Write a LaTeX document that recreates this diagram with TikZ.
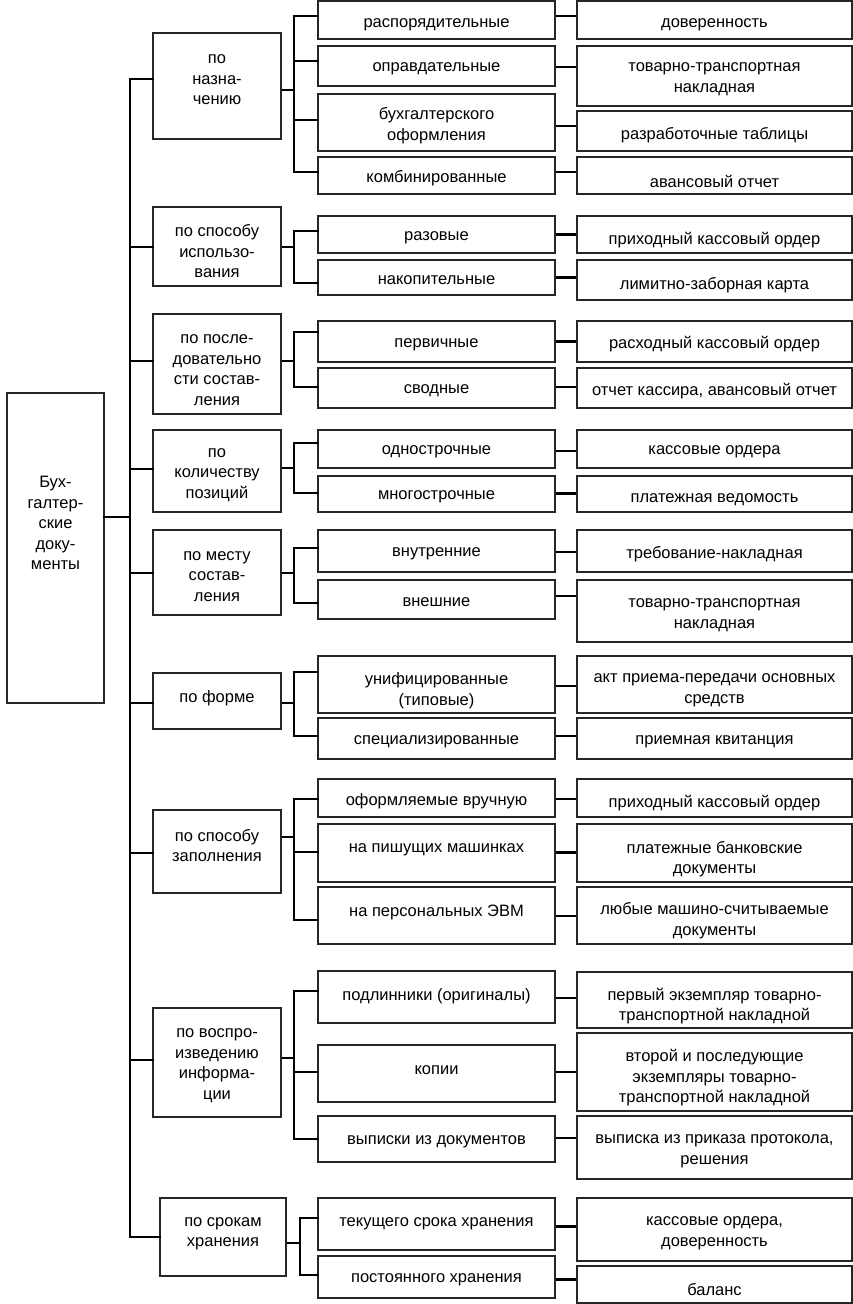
\documentclass[tikz,border=0pt]{standalone}
\usepackage{fontspec}
\setmainfont{Liberation Sans}
\tikzset{
  boxst/.style={draw=black!85, line width=1.4pt, inner sep=0pt, font=\fontsize{16.5}{20.5}\selectfont},
  brk/.style={line width=2.6pt, line cap=rect},
  lnk/.style={line width=2pt},
  thk/.style={line width=3pt},
  thn/.style={line width=1.2pt}
}
% #1 name, #2 x1, #3 y1, #4 x2, #5 y2, #6 upward text shift, #7 text
\newcommand\bx[7]{%
  \node[boxst] (#1) at ({(#2+#4)/2},{(#3+#5)/2})
    {\begin{minipage}[c][\dimexpr#5pt-#3pt\relax][c]{\dimexpr#4pt-#2pt\relax}\centering #7\par\kern\dimexpr#6pt-3pt\relax\kern\dimexpr#6pt-3pt\relax\end{minipage}};}
\begin{document}
\begin{tikzpicture}[x=1pt,y=-1pt]
\fill[white] (0,0) rectangle (853,1304);
\useasboundingbox (0,0) rectangle (853,1304);
% root
\bx{root}{7}{393}{104}{703}{28}{Бух-\\галтер-\\ские\\доку-\\менты}
% level 2
\bx{m1}{153}{33}{281}{139}{9}{по\\назна-\\чению}
\bx{m2}{153}{207}{281}{286}{-2}{по способу\\использо-\\вания}
\bx{m3}{153}{314}{281}{414}{-3}{по после-\\довательно\\сти состав-\\ления}
\bx{m4}{153}{430}{281}{512}{-1}{по\\количеству\\позиций}
\bx{m5}{153}{530}{281}{615}{-1}{по месту\\состав-\\ления}
\bx{m6}{153}{673}{281}{729}{6}{по форме}
\bx{m7}{153}{810}{281}{893}{9}{по способу\\заполнения}
\bx{m8}{153}{1008}{281}{1117}{0}{по воспро-\\изведению\\информа-\\ции}
\bx{m9}{160}{1198}{286}{1276}{6}{по срокам\\хранения}
% level 3
\bx{a1}{318}{1}{555}{39}{-2}{распорядительные}
\bx{a2}{318}{46}{555}{86}{0}{оправдательные}
\bx{a3}{318}{94}{555}{151}{0}{бухгалтерского\\оформления}
\bx{a4}{318}{157}{555}{194}{0}{комбинированные}
\bx{b1}{318}{216}{555}{253}{0}{разовые}
\bx{b2}{318}{260}{555}{295}{0}{накопительные}
\bx{c1}{318}{321}{555}{362}{0}{первичные}
\bx{c2}{318}{368}{555}{408}{0}{сводные}
\bx{d1}{318}{430}{555}{468}{0}{однострочные}
\bx{d2}{318}{476}{555}{512}{0}{многострочные}
\bx{e1}{318}{530}{555}{572}{0}{внутренние}
\bx{e2}{318}{580}{555}{619}{0}{внешние}
\bx{f1}{318}{656}{555}{713}{-3}{унифицированные\\(типовые)}
\bx{f2}{318}{718}{555}{759}{0}{специализированные}
\bx{g1}{318}{779}{555}{817}{0}{оформляемые вручную}
\bx{g2}{318}{824}{555}{882}{6}{на пишущих машинках}
\bx{g3}{318}{887}{555}{944}{6}{на персональных ЭВМ}
\bx{h1}{318}{971}{555}{1023}{4}{подлинники (оригиналы)}
\bx{h2}{318}{1045}{555}{1102}{6}{копии}
\bx{h3}{318}{1116}{555}{1162}{0}{выписки из документов}
\bx{i1}{318}{1198}{555}{1250}{3}{текущего срока хранения}
\bx{i2}{318}{1256}{555}{1298}{0}{постоянного хранения}
% level 4
\bx{A1}{577}{1}{852}{39}{-2}{доверенность}
\bx{A2}{577}{46}{852}{106}{0}{товарно-транспортная\\накладная}
\bx{A3}{577}{111}{852}{151}{-1}{разработочные таблицы}
\bx{A4}{577}{157}{852}{194}{-3}{авансовый отчет}
\bx{B1}{577}{216}{852}{253}{-3}{приходный кассовый ордер}
\bx{B2}{577}{260}{852}{300}{-2}{лимитно-заборная карта}
\bx{C1}{577}{321}{852}{362}{0}{расходный кассовый ордер}
\bx{C2}{577}{368}{852}{408}{0}{отчет кассира, авансовый отчет}
\bx{D1}{577}{430}{852}{468}{0}{кассовые ордера}
\bx{D2}{577}{476}{852}{512}{-3}{платежная ведомость}
\bx{E1}{577}{530}{852}{572}{0}{требование-накладная}
\bx{E2}{577}{580}{852}{642}{-1}{товарно-транспортная\\накладная}
\bx{F1}{577}{656}{852}{713}{-3}{акт приема-передачи основных\\средств}
\bx{F2}{577}{718}{852}{759}{0}{приемная квитанция}
\bx{G1}{577}{779}{852}{817}{-2}{приходный кассовый ордер}
\bx{G2}{577}{824}{852}{882}{-3}{платежные банковские\\документы}
\bx{G3}{577}{887}{852}{944}{-2}{любые машино-считываемые\\документы}
\bx{H1}{577}{972}{852}{1028}{-3}{первый экземпляр товарно-\\транспортной накладной}
\bx{H2}{577}{1033}{852}{1111}{-3}{второй и последующие\\экземпляры товарно-\\транспортной накладной}
\bx{H3}{577}{1116}{852}{1179}{-1}{выписка из приказа протокола,\\решения}
\bx{I1}{577}{1198}{852}{1261}{-1}{кассовые ордера,\\доверенность}
\bx{I2}{577}{1266}{852}{1303}{-2}{баланс}
% trunk
\coordinate (ttop) at (130,79);
\coordinate (tbot) at (130,1237);
\draw[brk] (ttop) -- (tbot);
\draw[brk] (root.east |- 0,517) -- (ttop |- 0,517);
\foreach \n/\y in {m1/79,m2/247,m3/361,m4/469,m5/573,m6/703,m7/853,m8/1060,m9/1237}
  \draw[brk] (ttop |- 0,\y) -- (\n.west |- 0,\y);
% group brackets
\coordinate (k) at (294,0);
\coordinate (k9) at (300,0);
\draw[lnk] (m1.east |- 0,90) -- (k |- 0,90);
\draw[brk] (k |- 0,16) -- (k |- 0,172);
\foreach \n/\y in {a1/16,a2/61,a3/120,a4/172} \draw[brk] (k |- 0,\y) -- (\n.west |- 0,\y);
\draw[lnk] (m2.east |- 0,247) -- (k |- 0,247);
\draw[brk] (k |- 0,231) -- (k |- 0,283);
\foreach \n/\y in {b1/231,b2/283} \draw[brk] (k |- 0,\y) -- (\n.west |- 0,\y);
\draw[lnk] (m3.east |- 0,361) -- (k |- 0,361);
\draw[brk] (k |- 0,332) -- (k |- 0,387);
\foreach \n/\y in {c1/332,c2/387} \draw[brk] (k |- 0,\y) -- (\n.west |- 0,\y);
\draw[lnk] (m4.east |- 0,468) -- (k |- 0,468);
\draw[brk] (k |- 0,443) -- (k |- 0,493);
\foreach \n/\y in {d1/443,d2/493} \draw[brk] (k |- 0,\y) -- (\n.west |- 0,\y);
\draw[lnk] (m5.east |- 0,573) -- (k |- 0,573);
\draw[brk] (k |- 0,548) -- (k |- 0,603);
\foreach \n/\y in {e1/548,e2/603} \draw[brk] (k |- 0,\y) -- (\n.west |- 0,\y);
\draw[lnk] (m6.east |- 0,703) -- (k |- 0,703);
\draw[brk] (k |- 0,672) -- (k |- 0,736);
\foreach \n/\y in {f1/672,f2/736} \draw[brk] (k |- 0,\y) -- (\n.west |- 0,\y);
\draw[lnk] (m7.east |- 0,837) -- (k |- 0,837);
\draw[brk] (k |- 0,799) -- (k |- 0,920);
\foreach \n/\y in {g1/799,g2/852,g3/920} \draw[brk] (k |- 0,\y) -- (\n.west |- 0,\y);
\draw[lnk] (m8.east |- 0,1058) -- (k |- 0,1058);
\draw[brk] (k |- 0,991) -- (k |- 0,1139);
\foreach \n/\y in {h1/991,h2/1072,h3/1139} \draw[brk] (k |- 0,\y) -- (\n.west |- 0,\y);
\draw[lnk] (m9.east |- 0,1243) -- (k9 |- 0,1243);
\draw[brk] (k9 |- 0,1218) -- (k9 |- 0,1275);
\foreach \n/\y in {i1/1218,i2/1275} \draw[brk] (k9 |- 0,\y) -- (\n.west |- 0,\y);
% level 3 -> level 4
\foreach \s/\t/\y in {a1/A1/16,a2/A2/67,a3/A3/126,a4/A4/172,c2/C2/387,e2/E2/596,f1/F1/686,f2/F2/736,g1/G1/799,g3/G3/916,h1/H1/998,h2/H2/1072,h3/H3/1138}
  \draw[lnk] (\s.east |- 0,\y) -- (\t.west |- 0,\y);
\foreach \s/\t/\y in {b1/B1/234,b2/B2/277,c1/C1/341,d2/D2/493,g2/G2/852,i1/I1/1226,i2/I2/1279}
  \draw[thk] (\s.east |- 0,\y) -- (\t.west |- 0,\y);
\foreach \s/\t/\y in {d1/D1/451,e1/E1/552}
  \draw[thn] (\s.east |- 0,\y) -- (\t.west |- 0,\y);
\end{tikzpicture}
\end{document}
